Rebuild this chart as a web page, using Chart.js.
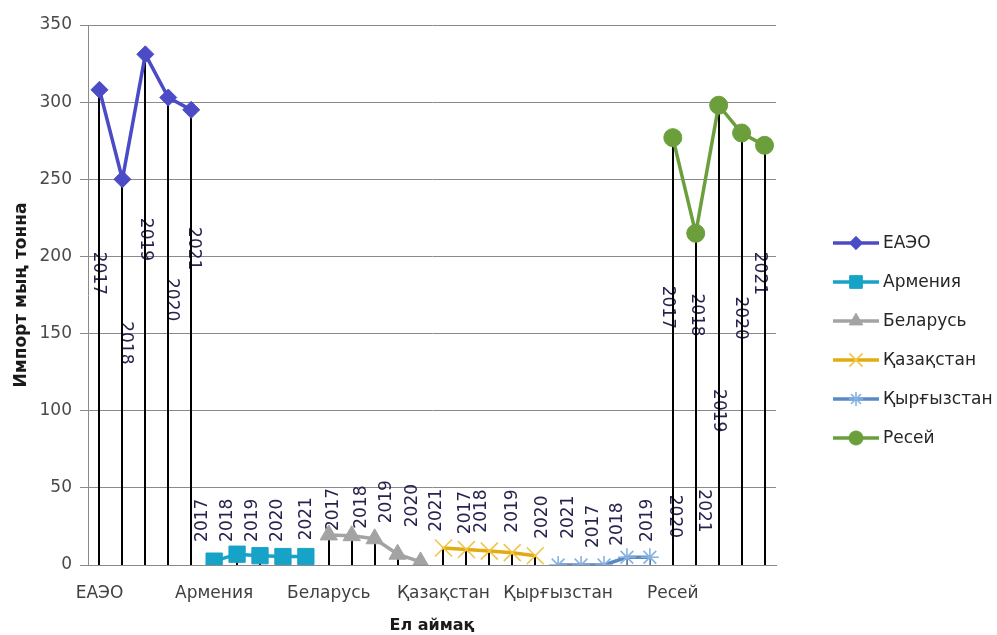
<!DOCTYPE html>
<html>
<head>
<meta charset="utf-8">
<script src="https://cdn.jsdelivr.net/npm/chart.js@4.4.1/dist/chart.umd.min.js"></script>
<style>
  html, body { margin: 0; padding: 0; background: #ffffff; }
  #wrap { width: 997px; height: 635px; position: relative; }
</style>
</head>
<body>
<div id="wrap"><canvas id="chart"></canvas></div>
<script>
// Import volumes (thousand tonnes) by region and year
const groups = ['ЕАЭО', 'Армения', 'Беларусь', 'Қазақстан', 'Қырғызстан', 'Ресей'];
const years = ['2017', '2018', '2019', '2020', '2021'];
const eaeu = [308, 250, 331, 303, 295];
const armenia = [2.5, 7, 6, 5.5, 5.5];
const belarus = [19.5, 19, 17, 7, 2];
const kazakhstan = [11, 10, 9, 8, 6];
const kyrgyzstan = [0, 0, 0, 5, 5];
const russia = [277, 215, 298, 280, 272];
const yTicks = [0, 50, 100, 150, 200, 250, 300, 350];

const seriesValues = [eaeu, armenia, belarus, kazakhstan, kyrgyzstan, russia];

// one category per (region, year); the axis names only the first year of each region
const categories = [];
groups.forEach(g => years.forEach(y => categories.push(g + ' ' + y)));

function placeSeries(values, groupIndex) {
  const out = new Array(categories.length).fill(null);
  values.forEach((v, i) => { out[groupIndex * years.length + i] = v; });
  return out;
}

const looks = [
  { line: '#4c4bc7', fill: '#4c4bc7', stroke: '#4c4bc7', style: 'rectRot', r: 8.5, bw: 1 },
  { line: '#17a2c7', fill: '#17a2c7', stroke: '#17a2c7', style: 'rect', r: 11.5, bw: 1 },
  { line: '#a3a3a3', fill: '#a3a3a3', stroke: '#a3a3a3', style: 'triangle', r: 10, bw: 1 },
  { line: '#e2ab12', fill: '#f0c548', stroke: '#f0c548', style: 'crossRot', r: 12, bw: 1.6 },
  { line: '#5a8ac4', fill: '#86b2e2', stroke: '#86b2e2', style: 'star', r: 9, bw: 1.6 },
  { line: '#6a9f3c', fill: '#6a9f3c', stroke: '#6a9f3c', style: 'circle', r: 9, bw: 1 }
];

const datasets = groups.map((g, gi) => ({
  label: g,
  data: placeSeries(seriesValues[gi], gi),
  borderColor: looks[gi].line,
  borderWidth: 3.5,
  backgroundColor: looks[gi].fill,
  pointStyle: looks[gi].style,
  pointRadius: looks[gi].r,
  pointHoverRadius: looks[gi].r,
  pointBackgroundColor: looks[gi].fill,
  pointBorderColor: looks[gi].stroke,
  pointBorderWidth: looks[gi].bw,
  tension: 0,
  spanGaps: false
}));

// placement of the year captions: horizontal shift (px) from the point, height in axis units,
// and whether the caption reads downwards
const captionPlacement = [
  [[-1, 189, true], [3, 144, true], [0, 211, true], [3, 172, true], [2, 205, true]],
  [[-12, 29, false], [-9, 29, false], [-7, 29, false], [-5, 29, false], [1, 30, false]],
  [[5, 36, false], [10, 37.5, false], [12, 41, false], [15, 38.5, false], [16, 35.5, false]],
  [[22, 34, false], [15, 35, false], [23, 35, false], [30, 31, false], [33, 31, false]],
  [[35, 25, false], [37, 26.5, false], [44, 29, false], [47, 31.5, true], [54, 35, true]],
  [[-5, 167, true], [1, 162, true], [0, 100, true], [-1, 160, true], [-5, 189, true]]
];

const dropLines = {
  id: 'dropLines',
  beforeDatasetsDraw(chart) {
    const ctx = chart.ctx;
    const yScale = chart.scales.y;
    const xScale = chart.scales.x;
    // year captions
    ctx.save();
    ctx.font = '17px "DejaVu Sans"';
    ctx.fillStyle = '#28224f';
    ctx.textAlign = 'center';
    ctx.textBaseline = 'middle';
    chart.data.datasets.forEach((ds, di) => {
      years.forEach((yr, i) => {
        const idx = di * years.length + i;
        const p = captionPlacement[di][i];
        const x = xScale.getPixelForValue(idx) + p[0];
        const y = yScale.getPixelForValue(p[1]);
        ctx.save();
        ctx.translate(x, y);
        ctx.rotate(p[2] ? Math.PI / 2 : -Math.PI / 2);
        ctx.fillText(yr, 0, 0);
        ctx.restore();
      });
    });
    ctx.restore();
    // vertical lines from each point down to the axis
    ctx.save();
    ctx.strokeStyle = '#000000';
    ctx.lineWidth = 2;
    chart.data.datasets.forEach((ds, di) => {
      const meta = chart.getDatasetMeta(di);
      meta.data.forEach((pt, i) => {
        if (ds.data[i] === null || ds.data[i] === undefined) return;
        ctx.beginPath();
        ctx.moveTo(Math.round(pt.x), pt.y);
        ctx.lineTo(Math.round(pt.x), yScale.bottom);
        ctx.stroke();
      });
    });
    ctx.restore();
  }
};

const sideLegend = {
  id: 'sideLegend',
  afterDraw(chart, args, opts) {
    const ctx = chart.ctx;
    chart.data.datasets.forEach((ds, i) => {
      const y = opts.top + i * opts.step;
      ctx.save();
      ctx.strokeStyle = ds.borderColor;
      ctx.lineWidth = 3.5;
      ctx.beginPath();
      ctx.moveTo(opts.x, y);
      ctx.lineTo(opts.x + opts.len, y);
      ctx.stroke();
      ctx.fillStyle = ds.pointBackgroundColor;
      ctx.strokeStyle = ds.pointBorderColor;
      ctx.lineWidth = ds.pointBorderWidth;
      Chart.helpers.drawPoint(ctx, {
        pointStyle: ds.pointStyle,
        radius: ds.pointRadius * 0.78,
        rotation: 0,
        borderWidth: ds.pointBorderWidth
      }, opts.x + opts.len / 2, y);
      ctx.fillStyle = '#262626';
      ctx.font = '17px "DejaVu Sans"';
      ctx.textAlign = 'left';
      ctx.textBaseline = 'middle';
      ctx.fillText(ds.label, opts.x + opts.len + 4, y + 1);
      ctx.restore();
    });
  }
};

new Chart(document.getElementById('chart'), {
  type: 'line',
  data: { labels: categories, datasets },
  plugins: [dropLines, sideLegend],
  options: {
    responsive: true,
    maintainAspectRatio: false,
    animation: false,
    layout: { padding: { left: 0, right: 221, top: 25, bottom: 0 } },
    plugins: {
      legend: { display: false },
      tooltip: { enabled: false },
      sideLegend: { x: 833, len: 46, top: 243, step: 39 }
    },
    scales: {
      x: {
        type: 'category',
        offset: true,
        grid: { display: false },
        border: { display: true, color: '#8a8a8a', width: 1 },
        ticks: {
          autoSkip: false,
          maxRotation: 0,
          minRotation: 0,
          padding: 10,
          color: '#404040',
          font: { family: '"DejaVu Sans"', size: 17 },
          callback: (v, i) => (i % years.length === 0 ? groups[i / years.length] : '')
        },
        title: {
          display: true,
          text: 'Ел аймақ',
          color: '#1a1a1a',
          font: { family: '"DejaVu Sans"', size: 16, weight: 'bold' },
          padding: { top: 0, bottom: 0 }
        },
        afterFit: s => { s.height = 70; }
      },
      y: {
        min: 0,
        max: 350,
        afterBuildTicks: s => { s.ticks = yTicks.map(v => ({ value: v })); },
        grid: { color: '#8a8a8a', lineWidth: 1, tickLength: 8, drawTicks: true },
        border: { display: true, color: '#8a8a8a', width: 1 },
        ticks: {
          padding: 8,
          color: '#4a4a4a',
          font: { family: '"DejaVu Sans"', size: 17 }
        },
        title: {
          display: true,
          text: 'Импорт мың тонна',
          color: '#1a1a1a',
          font: { family: '"DejaVu Sans"', size: 17, weight: 'bold' },
          padding: { top: 11, bottom: 0 }
        },
        afterFit: s => { s.width = 88; }
      }
    }
  }
});
</script>
</body>
</html>
